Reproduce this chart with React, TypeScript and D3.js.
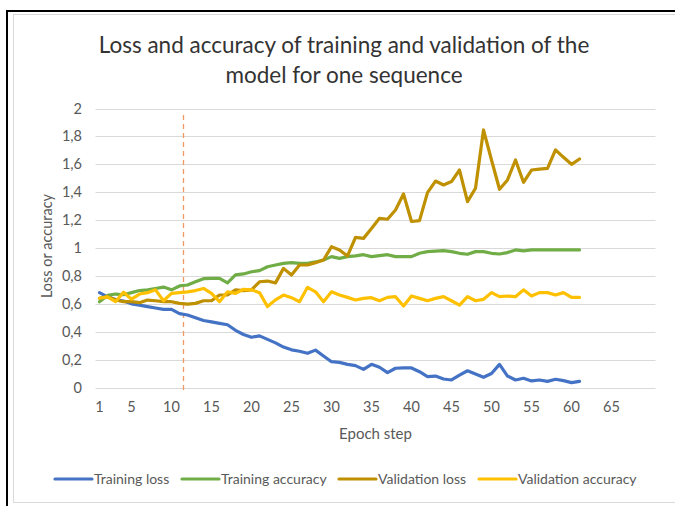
import { scaleLinear, line } from 'd3'

const epochs = Array.from({ length: 61 }, (_, i) => i + 1)

const trainingLoss = [
	0.68, 0.65, 0.63, 0.62, 0.6, 0.59, 0.58, 0.57, 0.56, 0.56, 0.53, 0.52, 0.5, 0.48, 0.47, 0.46, 0.45, 0.41, 0.38, 0.36,
	0.37, 0.345, 0.32, 0.29, 0.27, 0.26, 0.245, 0.268, 0.226, 0.185, 0.18, 0.166, 0.157, 0.13, 0.166, 0.145, 0.107, 0.138,
	0.14, 0.14, 0.113, 0.078, 0.082, 0.061, 0.054, 0.089, 0.12, 0.097, 0.073, 0.1, 0.166, 0.082, 0.054, 0.066, 0.047,
	0.054, 0.044, 0.059, 0.049, 0.035, 0.044,
]

const trainingAccuracy = [
	0.615, 0.66, 0.67, 0.665, 0.68, 0.695, 0.7, 0.71, 0.72, 0.7, 0.728, 0.735, 0.758, 0.78, 0.782, 0.782, 0.75, 0.807,
	0.814, 0.83, 0.838, 0.866, 0.878, 0.89, 0.895, 0.89, 0.89, 0.9, 0.914, 0.938, 0.926, 0.938, 0.943, 0.952, 0.938, 0.945,
	0.952, 0.938, 0.938, 0.938, 0.962, 0.974, 0.978, 0.981, 0.974, 0.962, 0.955, 0.974, 0.974, 0.962, 0.957, 0.967, 0.986,
	0.979, 0.986, 0.986, 0.986, 0.986, 0.986, 0.986, 0.986,
]

const validationLoss = [
	0.64, 0.651, 0.627, 0.615, 0.615, 0.608, 0.627, 0.622, 0.615, 0.615, 0.603, 0.598, 0.603, 0.622, 0.622, 0.663, 0.663,
	0.7, 0.695, 0.7, 0.758, 0.763, 0.75, 0.854, 0.806, 0.878, 0.878, 0.895, 0.914, 1.009, 0.986, 0.943, 1.076, 1.069, 1.14,
	1.213, 1.206, 1.272, 1.387, 1.19, 1.196, 1.397, 1.48, 1.452, 1.476, 1.559, 1.332, 1.428, 1.846, 1.631, 1.421, 1.488,
	1.631, 1.471, 1.559, 1.566, 1.571, 1.703, 1.65, 1.6, 1.638,
]

const validationAccuracy = [
	0.64, 0.65, 0.615, 0.683, 0.633, 0.67, 0.68, 0.7, 0.622, 0.675, 0.68, 0.686, 0.695, 0.71, 0.675, 0.615, 0.686, 0.675,
	0.704, 0.7, 0.68, 0.58, 0.628, 0.663, 0.644, 0.615, 0.718, 0.686, 0.615, 0.686, 0.663, 0.646, 0.627, 0.639, 0.644,
	0.622, 0.646, 0.651, 0.584, 0.656, 0.639, 0.622, 0.639, 0.651, 0.622, 0.591, 0.651, 0.622, 0.632, 0.68, 0.651, 0.656,
	0.651, 0.7, 0.656, 0.68, 0.68, 0.663, 0.68, 0.646, 0.646,
]

const series = [
	{ name: 'Training loss', color: '#4472C4', values: trainingLoss },
	{ name: 'Training accuracy', color: '#70AD47', values: trainingAccuracy },
	{ name: 'Validation loss', color: '#BF9000', values: validationLoss },
	{ name: 'Validation accuracy', color: '#FFC000', values: validationAccuracy },
]

const yTicks = [0, 0.2, 0.4, 0.6, 0.8, 1, 1.2, 1.4, 1.6, 1.8, 2]
const xTicks = [1, 5, 10, 15, 20, 25, 30, 35, 40, 45, 50, 55, 60, 65]
const markerEpoch = 11.5

// legend item x positions (line start)
const legendStarts = [55, 182, 339, 479]

const font = 'Lato, "Open Sans", sans-serif'
const textColor = '#595959'

export default function App() {
	const width = 675
	const height = 506
	const plotLeft = 95.5
	const plotRight = 655.5

	const x = scaleLinear().domain([1, 65]).range([99.5, 611.5])
	const y = scaleLinear().domain([0, 2]).range([387.5, 108.5])

	const path = line<number>()
		.x((_, i) => x(epochs[i]))
		.y((d) => y(d))

	const fmt = (v: number) => String(Math.round(v * 10) / 10).replace('.', ',')

	return (
		<svg
			width={width}
			height={height}
			viewBox={`0 0 ${width} ${height}`}
			style={{ position: 'absolute', left: 0, top: 0, background: '#fff' }}
			fontFamily={font}
		>
			<rect x={0} y={0} width={width} height={height} fill="#fff" />
			<rect x={13.5} y={14.5} width={width} height={488} fill="#fff" stroke="#D9D9D9" />
			<line x1={7} x2={width} y1={11} y2={11} stroke="#000" strokeWidth={2} />
			<line x1={7} x2={7} y1={10} y2={height} stroke="#000" strokeWidth={2} />

			<text x={344} y={53} textAnchor="middle" fontSize={22.5} fill="#333">
				Loss and accuracy of training and validation of the
			</text>
			<text x={344} y={83} textAnchor="middle" fontSize={22.5} fill="#333">
				model for one sequence
			</text>

			{yTicks.map((t) => (
				<g key={t}>
					<line x1={plotLeft} x2={plotRight} y1={Math.round(y(t)) + 0.5} y2={Math.round(y(t)) + 0.5} stroke="#D9D9D9" />
					<text x={82} y={y(t)} dy="0.35em" textAnchor="end" fontSize={14.5} fill={textColor}>
						{fmt(t)}
					</text>
				</g>
			))}

			{xTicks.map((t) => (
				<text key={t} x={x(t)} y={412} textAnchor="middle" fontSize={14.5} fill={textColor}>
					{t}
				</text>
			))}

			<line
				x1={x(markerEpoch)}
				x2={x(markerEpoch)}
				y1={115}
				y2={390}
				stroke="#EE9A66"
				strokeWidth={1.3}
				strokeDasharray="5,4"
			/>

			{series.map((s) => (
				<path
					key={s.name}
					d={path(s.values) ?? ''}
					fill="none"
					stroke={s.color}
					strokeWidth={3.2}
					strokeLinejoin="round"
					strokeLinecap="round"
				/>
			))}

			<text x={375.5} y={439} textAnchor="middle" fontSize={15} fill={textColor}>
				Epoch step
			</text>
			<text
				transform={`translate(52, 246) rotate(-90)`}
				textAnchor="middle"
				fontSize={14.5}
				fill={textColor}
			>
				Loss or accuracy
			</text>

			{series.map((s, i) => (
				<g key={s.name} transform={`translate(${legendStarts[i]}, 479)`}>
					<line x1={0} x2={37} y1={0} y2={0} stroke={s.color} strokeWidth={3.2} strokeLinecap="round" />
					<text x={39} y={0} dy="0.35em" fontSize={14} fill={textColor}>
						{s.name}
					</text>
				</g>
			))}
		</svg>
	)
}
